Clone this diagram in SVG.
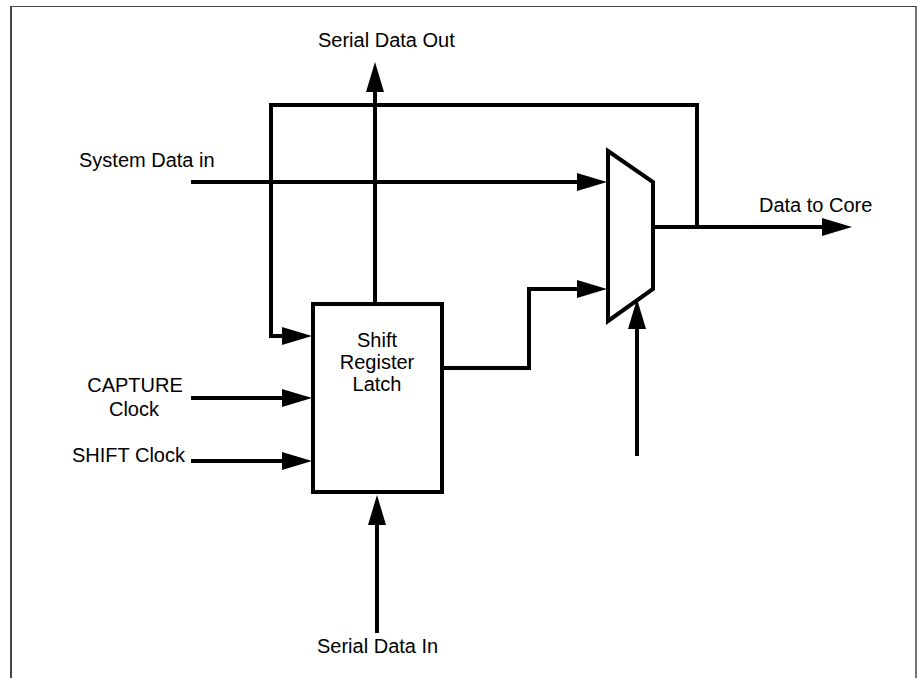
<svg xmlns="http://www.w3.org/2000/svg" width="918" height="678" viewBox="0 0 918 678">
  <style>
    .frame { fill: none; stroke: #444; }
    .wire { fill: none; stroke: #000; stroke-width: 4; marker-end: url(#arr); }
    .plain { fill: none; stroke: #000; stroke-width: 4; }
    .shape { fill: #fff; stroke: #000; stroke-width: 4; }
    .lbl { font-family: "Liberation Sans", Arial, sans-serif; font-size: 20px; fill: #000; }
    .mid { text-anchor: middle; }
  </style>
  <defs>
    <marker id="arr" markerUnits="userSpaceOnUse" viewBox="0 0 30 18" markerWidth="30" markerHeight="18" refX="10" refY="9" orient="auto">
      <path d="M0,0 L30,9 L0,18 z" fill="#000"/>
    </marker>
  </defs>
  <rect width="918" height="678" fill="#fff"/>
  <g id="frame">
    <line class="frame" x1="11" y1="6" x2="11" y2="678" stroke-width="2"/>
    <line class="frame" x1="10" y1="6.5" x2="916" y2="6.5" stroke-width="1"/>
    <line class="frame" x1="916" y1="6" x2="916" y2="678" stroke-width="1.5"/>
  </g>
  <g id="connectors">
    <path class="wire" d="M375,304 V82"/>
    <path class="plain" d="M653,227 H697"/>
    <path class="wire" d="M697,227 H832"/>
    <path class="wire" d="M697,227 V105 H271 V336 H292"/>
    <path class="wire" d="M191,182 H587"/>
    <path class="wire" d="M442,368 H529 V289 H587"/>
    <path class="wire" d="M637,456 V319"/>
    <path class="wire" d="M191,398 H292"/>
    <path class="wire" d="M191,461 H292"/>
    <path class="wire" d="M377,633 V515"/>
  </g>
  <g id="shift-register-latch">
    <rect class="shape" x="313" y="304" width="129" height="188"/>
    <text class="lbl mid" x="377" y="347">Shift</text>
    <text class="lbl mid" x="377" y="369">Register</text>
    <text class="lbl mid" x="377" y="391">Latch</text>
  </g>
  <g id="mux">
    <polygon class="shape" points="608,151 653,182 653,289 608,321"/>
  </g>
  <g id="serial-data-out">
    <text class="lbl" x="318" y="47">Serial Data Out</text>
  </g>
  <g id="system-data-in">
    <text class="lbl" x="79" y="167">System Data in</text>
  </g>
  <g id="data-to-core">
    <text class="lbl" x="759" y="212">Data to Core</text>
  </g>
  <g id="capture-clock">
    <text class="lbl mid" x="135" y="392">CAPTURE</text>
    <text class="lbl mid" x="134" y="416">Clock</text>
  </g>
  <g id="shift-clock">
    <text class="lbl" x="72" y="462">SHIFT Clock</text>
  </g>
  <g id="serial-data-in">
    <text class="lbl" x="317" y="653">Serial Data In</text>
  </g>
</svg>
